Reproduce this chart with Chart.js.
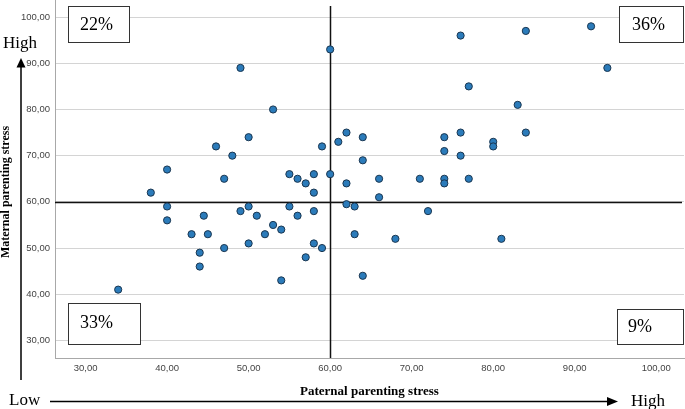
<!DOCTYPE html>
<html>
<head>
<meta charset="utf-8">
<script src="https://cdn.jsdelivr.net/npm/chart.js@4.4.1/dist/chart.umd.min.js"></script>
<style>
  html, body { margin: 0; padding: 0; background: #ffffff; }
  #wrap { width: 685px; height: 409px; position: relative; }
</style>
</head>
<body>
<div id="wrap"><canvas id="c" width="685" height="409"></canvas></div>
<script>
// Paternal (x) and maternal (y) parenting stress, one entry per participant
const paternal = [
  34, 40, 40, 43, 44.5, 45, 44, 44, 47, 49, 50, 50, 51, 52, 53, 54, 54, 55, 56, 57, 58, 58, 59,
  38, 40, 49, 53, 46, 48, 50, 47, 55, 56, 57, 58, 58, 59, 60, 60,
  61, 62, 62, 76, 84, 92, 94, 77, 83, 84, 64, 74, 76, 80, 80, 74, 76, 64, 66, 71, 74, 74, 77, 66,
  62, 63, 72, 63, 68, 81, 64
];
const maternal = [
  41, 59, 56, 53, 57, 53, 49, 46, 50, 58, 59, 51, 57, 53, 55, 54, 43, 59, 57, 48, 58, 51, 50,
  62, 67, 89, 80, 72, 70, 74, 65, 66, 65, 64, 66, 62, 72, 93, 66,
  73, 75, 64, 96, 97, 98, 89, 85, 81, 75, 74, 74, 75, 73, 72, 71, 70, 69, 65, 65, 65, 64, 65, 61,
  59.5, 59, 58, 53, 52, 52, 44
];
const xTicks = [30, 40, 50, 60, 70, 80, 90, 100];
const yTicks = [30, 40, 50, 60, 70, 80, 90, 100];
const xTickLabels = ['30,00', '40,00', '50,00', '60,00', '70,00', '80,00', '90,00', '100,00'];
const yTickLabels = ['30,00', '40,00', '50,00', '60,00', '70,00', '80,00', '90,00', '100,00'];
const cutoffX = 60;
const cutoffY = 60;
const quadrantLabels = ['22%', '36%', '33%', '9%']; // upper-left, upper-right, lower-left, lower-right
const xTitle = 'Paternal parenting stress';
const yTitle = 'Maternal parenting stress';

const points = paternal.map((x, i) => ({ x: x, y: maternal[i] }));

const serif = '"Liberation Serif", "Times New Roman", serif';

const overlay = {
  id: 'overlay',
  beforeDatasetsDraw(chart) {
    const ctx = chart.ctx, ca = chart.chartArea;
    const xs = chart.scales.x, ys = chart.scales.y;
    const px = Math.round(xs.getPixelForValue(cutoffX)) + 0.5;
    const py = Math.round(ys.getPixelForValue(cutoffY)) + 0.5;
    ctx.save();
    ctx.strokeStyle = '#111';
    ctx.lineWidth = 1.5;
    ctx.beginPath();
    ctx.moveTo(px, ca.top + 6);
    ctx.lineTo(px, ca.bottom);
    ctx.moveTo(ca.left, py);
    ctx.lineTo(ca.right - 2, py);
    ctx.stroke();
    ctx.restore();
  },
  afterDraw(chart) {
    const ctx = chart.ctx;
    ctx.save();
    // quadrant boxes
    const boxes = [
      { r: [68.5, 6.5, 61, 36], t: quadrantLabels[0], tx: 80, ty: 25 },
      { r: [619.5, 6.5, 64, 36], t: quadrantLabels[1], tx: 632, ty: 25 },
      { r: [68.5, 303.5, 72, 41], t: quadrantLabels[2], tx: 80, ty: 323 },
      { r: [617.5, 309.5, 66, 35], t: quadrantLabels[3], tx: 628, ty: 327 }
    ];
    ctx.lineWidth = 1;
    ctx.strokeStyle = '#333';
    ctx.font = '18px ' + serif;
    ctx.textBaseline = 'middle';
    ctx.textAlign = 'left';
    boxes.forEach(b => {
      ctx.fillStyle = '#fff';
      ctx.fillRect(b.r[0], b.r[1], b.r[2], b.r[3]);
      ctx.strokeRect(b.r[0], b.r[1], b.r[2], b.r[3]);
      ctx.fillStyle = '#000';
      ctx.fillText(b.t, b.tx, b.ty);
    });

    // arrows
    ctx.strokeStyle = '#000';
    ctx.fillStyle = '#000';
    ctx.lineWidth = 1.5;
    ctx.beginPath();
    ctx.moveTo(21, 380);
    ctx.lineTo(21, 66);
    ctx.moveTo(50, 401.5);
    ctx.lineTo(609, 401.5);
    ctx.stroke();
    ctx.beginPath();
    ctx.moveTo(21, 58);
    ctx.lineTo(16.5, 67.5);
    ctx.lineTo(25.5, 67.5);
    ctx.closePath();
    ctx.fill();
    ctx.beginPath();
    ctx.moveTo(618, 401.5);
    ctx.lineTo(607, 397);
    ctx.lineTo(607, 406);
    ctx.closePath();
    ctx.fill();

    // Low / High labels
    ctx.font = '17px ' + serif;
    ctx.textBaseline = 'middle';
    ctx.fillText('High', 3, 44);
    ctx.fillText('Low', 9, 401);
    ctx.fillText('High', 631, 402);

    // axis titles
    ctx.font = 'bold 13px ' + serif;
    ctx.fillText(xTitle, 300, 392);
    ctx.save();
    ctx.translate(6, 192);
    ctx.rotate(-Math.PI / 2);
    ctx.textAlign = 'center';
    ctx.font = 'bold 12px ' + serif;
    ctx.fillText(yTitle, 0, 0);
    ctx.restore();
    ctx.restore();
  }
};

new Chart(document.getElementById('c'), {
  type: 'scatter',
  data: {
    datasets: [{
      data: points,
      backgroundColor: '#2b7bba',
      borderColor: '#1a3650',
      borderWidth: 1,
      pointRadius: 3.6,
      pointHoverRadius: 3.6
    }]
  },
  options: {
    responsive: false,
    animation: false,
    events: [],
    layout: { autoPadding: false, padding: { top: 0, right: 1, left: 0, bottom: 0 } },
    plugins: { legend: { display: false }, tooltip: { enabled: false } },
    scales: {
      x: {
        type: 'linear',
        min: 26.25,
        max: 103.4,
        afterBuildTicks: s => { s.ticks = xTicks.map(v => ({ value: v })); },
        afterFit: s => { s.height = 51; s.paddingLeft = 0; s.paddingRight = 0; },
        grid: { display: false, drawTicks: false },
        border: { display: true, color: '#a8a8a8', width: 1 },
        ticks: {
          padding: 5,
          maxRotation: 0,
          color: '#444',
          font: { family: '"Liberation Sans", Arial, sans-serif', size: 9.5 },
          callback: v => xTickLabels[xTicks.indexOf(v)]
        }
      },
      y: {
        type: 'linear',
        min: 26.2,
        max: 103.7,
        afterBuildTicks: s => { s.ticks = yTicks.map(v => ({ value: v })); },
        afterFit: s => { s.width = 55; s.paddingTop = 0; s.paddingBottom = 0; },
        grid: { color: '#d4d4d4', drawTicks: false, lineWidth: 1 },
        border: { display: true, color: '#a8a8a8', width: 1 },
        ticks: {
          padding: 5,
          color: '#444',
          font: { family: '"Liberation Sans", Arial, sans-serif', size: 9.5 },
          callback: v => yTickLabels[yTicks.indexOf(v)]
        }
      }
    }
  },
  plugins: [overlay]
});
</script>
</body>
</html>
